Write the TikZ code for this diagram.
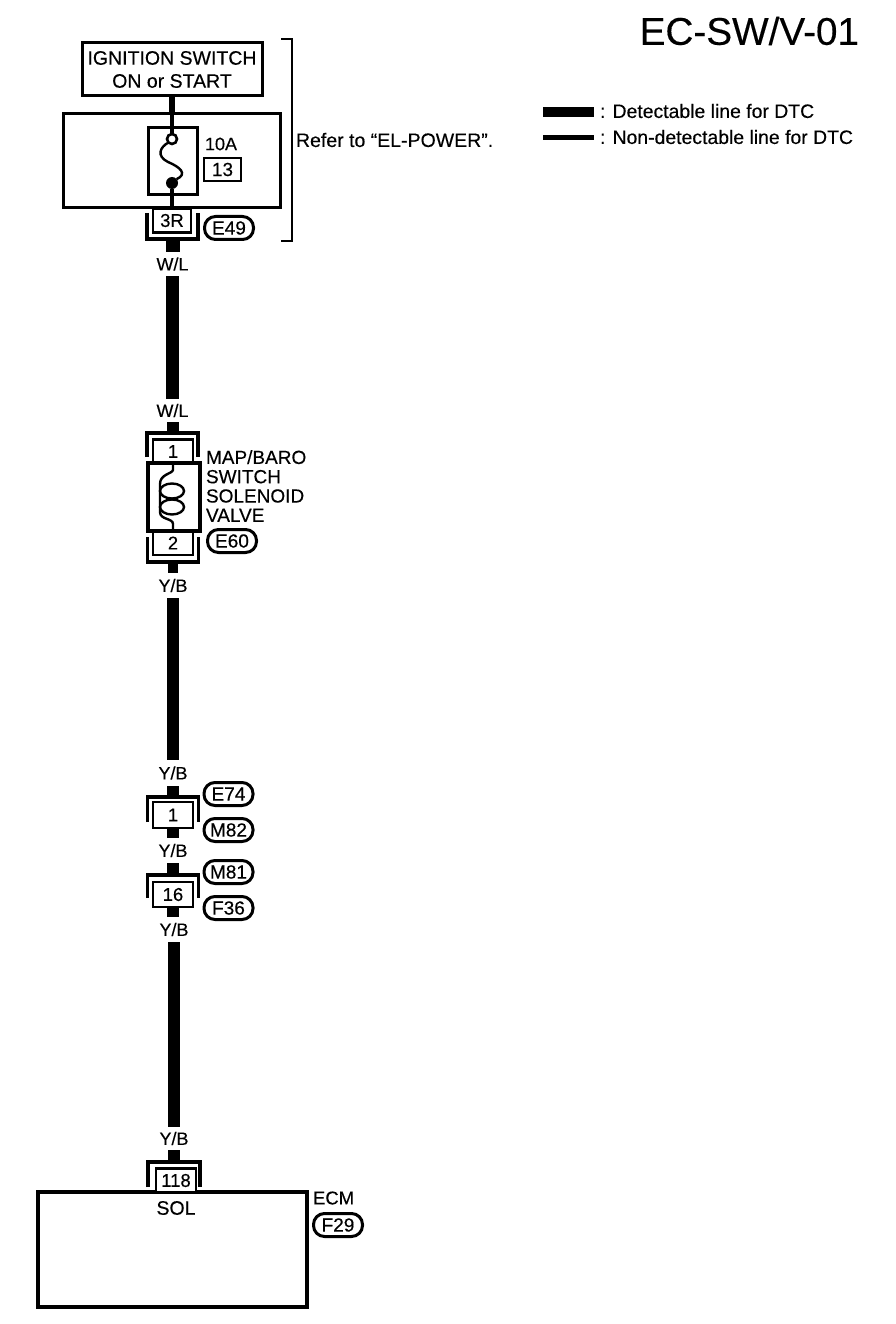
\documentclass[tikz,border=0pt]{standalone}
\usepackage{fontspec}
\usetikzlibrary{shapes.geometric}
\setmainfont[FakeBold=0.3]{Liberation Sans}
\begin{document}
\begin{tikzpicture}[x=1pt,y=-1pt,
  every node/.style={inner sep=0pt,outer sep=0pt,font=\fontsize{18.5}{20}\selectfont},
  box/.style={draw,line width=3pt,rectangle,align=center,anchor=center},
  ibox/.style={draw=none,rectangle},
  pill/.style={draw,line width=3pt,rectangle,rounded corners=11pt,minimum width=49pt,minimum height=23pt,font=\fontsize{19}{20}\selectfont},
  termbox/.style={draw,line width=2.8pt,rectangle,minimum width=40pt,minimum height=24pt},
  bracketline/.style={line width=3.6pt,line cap=butt,line join=miter},
  heavy/.style={line width=13pt,line cap=butt},
  thinw/.style={line width=4pt,line cap=butt},
  coil/.style={ellipse,draw,line width=2.4pt,minimum width=24pt,minimum height=15pt},
  wirelabel/.style={minimum width=40pt,align=center,font=\fontsize{18}{20}\selectfont},
  txt/.style={anchor=west,align=left}]
\useasboundingbox (0,0) rectangle (896,1324);
\fill[white] (0,0) rectangle (896,1324);

% title and legend
\node[anchor=east,font=\fontsize{38.7}{40}\selectfont] (title) at (859,31) {EC-SW/V-01};
\node[ibox,minimum width=51pt,minimum height=10pt,fill=black] (legA) at (568.5,112) {};
\node[ibox,minimum width=51pt,minimum height=5pt,fill=black] (legB) at (568.5,138) {};
\node[txt,font=\fontsize{19.4}{20}\selectfont] (legAt) at (600,111) {: Detectable line for DTC};
\node[txt,font=\fontsize{19.4}{20}\selectfont] (legBt) at (600,137) {: Non-detectable line for DTC};

% top group
\node[box,minimum width=180pt,minimum height=53pt,font=\fontsize{19.5}{23}\selectfont] (ign) at (172,69.5) {IGNITION SWITCH\\ON or START};
\node[box,minimum width=217pt,minimum height=94pt] (block) at (171.5,161) {};
\node[box,minimum width=49pt,minimum height=67pt] (fuse) at (172.5,161.5) {};
\node[circle,draw,line width=2.6pt,minimum size=10pt,fill=white] (fc) at (172,139) {};
\node[circle,fill=black,minimum size=12pt] (fd) at (172,183) {};
\draw[line width=2.4pt] (fc.225) .. controls (160,147) and (156,156) .. (168,162) .. controls (180,167) and (188,174) .. (fd.40);
\node[anchor=west,font=\fontsize{18}{20}\selectfont] (amp) at (205,144) {10A};
\node[box,line width=2.8pt,minimum width=37pt,minimum height=23pt,font=\fontsize{19}{20}\selectfont] (n13) at (222.5,169.5) {13};
\node[termbox,minimum width=38pt,minimum height=24pt] (t3r) at (172,220.5) {3R};
\node[ibox,minimum width=51pt,minimum height=26pt] (b3r) at (172.5,226) {};
\draw[bracketline] (b3r.north west) -- (b3r.south west) -- (b3r.south east) -- (b3r.north east);
\node[pill] (e49) at (229,228) {E49};
\draw[line width=6pt] (ign.south) -- (ign.south |- block.north);
\draw[thinw] (fc.north |- block.north) -- (fc.north);
\draw[thinw] (fd.south) -- (t3r.north);

% bracket and reference
\node[ibox,minimum width=11pt,minimum height=202pt] (ref) at (286.5,140) {};
\draw[line width=2.8pt] (ref.north west) -- (ref.north east) -- (ref.south east) -- (ref.south west);
\node[txt,font=\fontsize{19.5}{20}\selectfont] (reft) at (296,140) {Refer to “EL-POWER”.};

% W/L run
\node[wirelabel,minimum height=24pt] (wl1) at (172.5,264) {W/L};
\node[wirelabel,minimum height=23pt] (wl2) at (172.5,410.5) {W/L};
\draw[line width=14pt] (b3r.south) -- (wl1.north);
\draw[heavy] (wl1.south) -- (wl2.north);

% solenoid
\node[ibox,minimum width=51pt,minimum height=24pt] (b1) at (172.5,445) {};
\draw[bracketline] (b1.south west) -- (b1.north west) -- (b1.north east) -- (b1.south east);
\node[termbox] (t1) at (173,451.5) {1};
\node[box,line width=3.4pt,minimum width=52pt,minimum height=68pt] (sol) at (174,497) {};
\node[termbox] (t2) at (173,543) {2};
\node[ibox,minimum width=51pt,minimum height=25pt] (b2) at (173,549.5) {};
\draw[bracketline] (b2.north west) -- (b2.south west) -- (b2.south east) -- (b2.north east);
\node[coil] (coila) at (172,491) {};
\node[coil] (coilb) at (172,507) {};
\draw[line width=2.4pt] (sol.north) ++(-1,0) -- ++(0,7) .. controls (172,474) and (160,474) .. (160,484) -- (160,512) .. controls (160,520) and (173,518) .. (173,524) -- (173,530);
\draw[line width=12pt] (wl2.south) -- (b1.north);
\node[txt,font=\fontsize{19}{19.3}\selectfont] (solt) at (206,486) {MAP/BARO\\SWITCH\\SOLENOID\\VALVE};
\node[pill] (e60) at (232,541) {E60};

% Y/B run
\node[wirelabel,minimum height=25pt] (yb1) at (173,585.5) {Y/B};
\node[wirelabel,minimum height=26pt] (yb2) at (173,773) {Y/B};
\draw[line width=10pt] (b2.south) -- (yb1.north);
\draw[line width=12pt] (yb1.south) -- (yb2.north);

% connector 1
\node[ibox,minimum width=51pt,minimum height=25pt] (b4) at (173,809.5) {};
\draw[bracketline] (b4.south west) -- (b4.north west) -- (b4.north east) -- (b4.south east);
\node[termbox,minimum height=26pt] (t4) at (173,815) {1};
\node[pill] (e74) at (228.5,794) {E74};
\node[pill] (m82) at (228.5,830) {M82};
\draw[line width=12pt] (yb2.south) -- (b4.north);
\node[wirelabel,minimum height=25pt] (yb3) at (173,850.5) {Y/B};
\draw[line width=12pt] (t4.south) -- (yb3.north);

% connector 16
\node[ibox,minimum width=51pt,minimum height=23pt] (b5) at (173,886.5) {};
\draw[bracketline] (b5.south west) -- (b5.north west) -- (b5.north east) -- (b5.south east);
\node[termbox,minimum height=25pt] (t5) at (173,894.5) {16};
\node[pill] (m81) at (228.5,872) {M81};
\node[pill] (f36) at (228.5,908) {F36};
\draw[line width=12pt] (yb3.south) -- (b5.north);
\node[wirelabel,minimum height=25pt] (yb4) at (174,929.5) {Y/B};
\draw[line width=12pt] (t5.south) -- (t5.south |- yb4.north);

% final run
\node[wirelabel,minimum height=23pt] (yb5) at (174,1138.5) {Y/B};
\draw[line width=12pt] (yb4.south) -- (yb5.north);

% ECM
\node[ibox,minimum width=52pt,minimum height=25pt] (b6) at (174,1174.5) {};
\draw[bracketline] (b6.south west) -- (b6.north west) -- (b6.north east) -- (b6.south east);
\node[box,line width=3.4pt,minimum width=269pt,minimum height=115pt] (ecm) at (172.5,1249.5) {};
\node[termbox,fill=white,font=\fontsize{18.5}{20}\selectfont] (t6) at (176,1180.5) {118};
\draw[line width=12pt] (yb5.south) -- (b6.north);
\node[font=\fontsize{19.5}{20}\selectfont] (solp) at (176,1208) {SOL};
\node[txt,font=\fontsize{18.5}{20}\selectfont] (ecmt) at (313,1198) {ECM};
\node[pill] (f29) at (338,1225) {F29};
\end{tikzpicture}
\end{document}
